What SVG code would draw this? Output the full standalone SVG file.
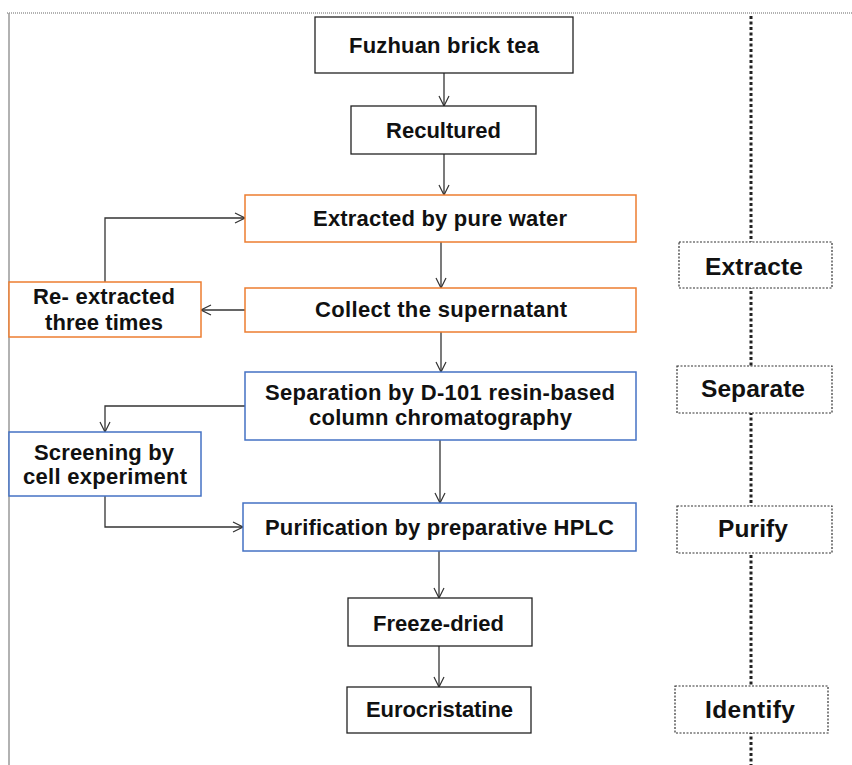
<svg xmlns="http://www.w3.org/2000/svg" width="852" height="765" viewBox="0 0 852 765">
<defs>
<style>
.t{font-family:"Liberation Sans",Arial,sans-serif;font-weight:bold;font-size:22px;fill:#111}
.tb{font-size:24.5px}
.bk{fill:#fff;stroke:#222;stroke-width:1.3}
.or{fill:#fff;stroke:#ED7D31;stroke-width:1.5}
.bl{fill:#fff;stroke:#4472C4;stroke-width:1.5}
.ds{fill:#fff;stroke:#333;stroke-width:1.2;stroke-dasharray:2 1.5}
.c{fill:none;stroke:#333;stroke-width:1.3;marker-end:url(#a)}
</style>
<marker id="a" viewBox="0 0 12 12" refX="11" refY="6" markerWidth="12" markerHeight="12" markerUnits="userSpaceOnUse" orient="auto">
<path d="M1,1 L11,6 L1,11" fill="none" stroke="#333" stroke-width="1.2"/>
</marker>
</defs>
<rect width="852" height="765" fill="#fff"/>
<g id="frame">
<line x1="7" y1="13" x2="852" y2="13" stroke="#999" stroke-width="1.5" stroke-dasharray="1 1"/>
<line x1="9" y1="13" x2="9" y2="765" stroke="#999" stroke-width="1.5"/>
<line x1="751" y1="16" x2="751" y2="765" stroke="#222" stroke-width="3" stroke-dasharray="3 2.5"/>
</g>
<g id="connectors">
<line class="c" x1="444" y1="73" x2="444" y2="106"/>
<line class="c" x1="444" y1="154" x2="444" y2="195"/>
<line class="c" x1="441" y1="242" x2="441" y2="288"/>
<line class="c" x1="441" y1="332" x2="441" y2="372"/>
<line class="c" x1="440" y1="440" x2="440" y2="503"/>
<line class="c" x1="439" y1="551" x2="439" y2="598"/>
<line class="c" x1="439" y1="646" x2="439" y2="687"/>
<polyline class="c" points="105,282 105,218 245,218"/>
<line class="c" x1="245" y1="310" x2="201" y2="310"/>
<polyline class="c" points="245,406 105,406 105,432"/>
<polyline class="c" points="105,496 105,527 243,527"/>
</g>
<g id="n1"><rect class="bk" x="315" y="17" width="258" height="56"/><text class="t" x="349" y="53" textLength="190">Fuzhuan brick tea</text></g>
<g id="n2"><rect class="bk" x="351" y="106" width="185" height="48"/><text class="t" x="386" y="138" textLength="115">Recultured</text></g>
<g id="n3"><rect class="or" x="245" y="195" width="391" height="47"/><text class="t" x="313" y="226" textLength="254">Extracted by pure water</text></g>
<g id="n4"><rect class="or" x="245" y="288" width="391" height="44"/><text class="t" x="315" y="317" textLength="252">Collect the supernatant</text></g>
<g id="n5"><rect class="or" x="9" y="282" width="192" height="55"/><text class="t" x="33" y="304" textLength="142">Re- extracted</text><text class="t" x="45" y="330" textLength="118">three times</text></g>
<g id="n6"><rect class="bl" x="245" y="372" width="391" height="68"/><text class="t" x="265" y="400" textLength="350">Separation by D-101 resin-based</text><text class="t" x="309" y="425" textLength="263">column chromatography</text></g>
<g id="n7"><rect class="bl" x="9" y="432" width="192" height="64"/><text class="t" x="34" y="460" textLength="140">Screening by</text><text class="t" x="23" y="484" textLength="164">cell experiment</text></g>
<g id="n8"><rect class="bl" x="243" y="503" width="393" height="48"/><text class="t" x="265" y="535" textLength="349">Purification by preparative HPLC</text></g>
<g id="n9"><rect class="bk" x="348" y="598" width="184" height="48"/><text class="t" x="373" y="631" textLength="131">Freeze-dried</text></g>
<g id="n10"><rect class="bk" x="347" y="687" width="184" height="46"/><text class="t" x="366" y="717" textLength="147">Eurocristatine</text></g>
<g id="s1"><rect class="ds" x="679" y="242" width="153" height="46"/><text class="t tb" x="705" y="275" textLength="98">Extracte</text></g>
<g id="s2"><rect class="ds" x="677" y="366" width="155" height="47"/><text class="t tb" x="701" y="397" textLength="104">Separate</text></g>
<g id="s3"><rect class="ds" x="677" y="506" width="155" height="47"/><text class="t tb" x="718" y="537" textLength="70">Purify</text></g>
<g id="s4"><rect class="ds" x="675" y="686" width="153" height="47"/><text class="t tb" x="705" y="718" textLength="90">Identify</text></g>
</svg>
